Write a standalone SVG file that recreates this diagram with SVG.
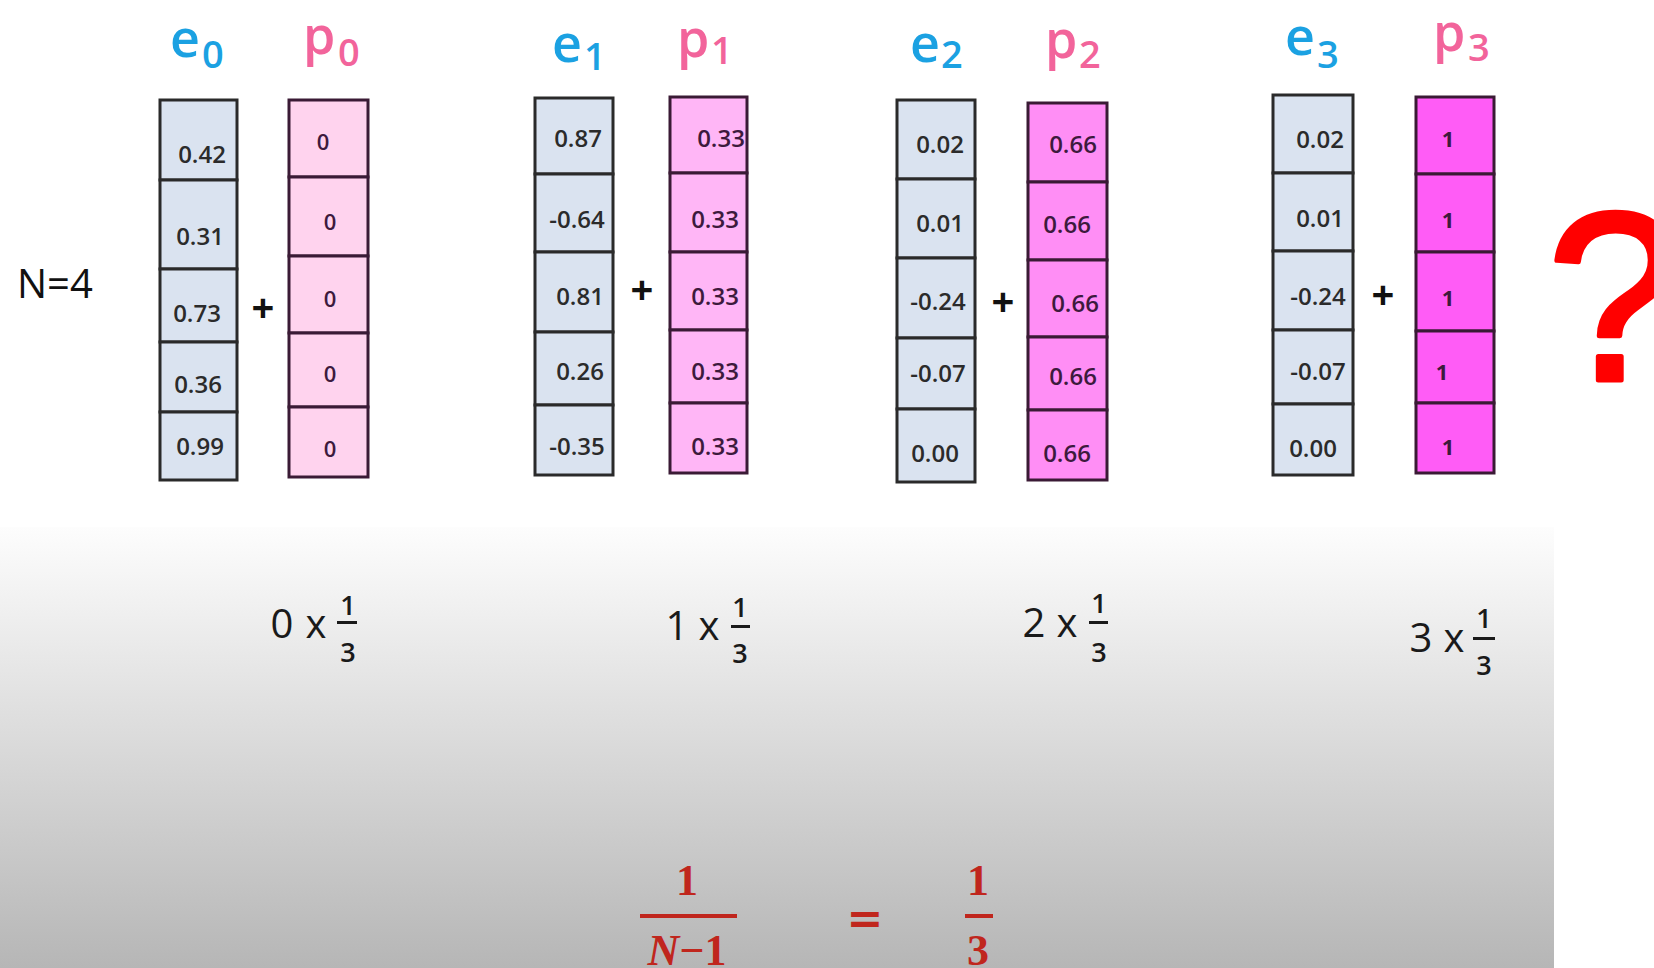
<svg xmlns="http://www.w3.org/2000/svg" width="1654" height="968" viewBox="0 0 1654 968">
<defs>
<linearGradient id="bg" x1="0" y1="527" x2="0" y2="968" gradientUnits="userSpaceOnUse">
<stop offset="0" stop-color="#fdfdfd"/>
<stop offset="1" stop-color="#b6b6b6"/>
</linearGradient>
</defs>
<style>
.cell{stroke-width:3}
.e rect{fill:#dae3f0;stroke:#2a2a2a}
.p rect{stroke:#3a1a35}
.p0 rect{fill:#ffd3ee}
.p1 rect{fill:#ffb6f6}
.p2 rect{fill:#ff8ef5}
.p3 rect{fill:#ff5cf6}
.v{font-family:"Open Sans","Liberation Sans",sans-serif;font-size:24px;font-weight:600;text-anchor:middle}
.e .v{fill:#2b2b2b}
.p .v{fill:#3d1a3d}
.p0 .v{font-size:22px}
.p3 .v{font-size:22px;font-weight:bold}
.hdr{font-family:"Open Sans","Liberation Sans",sans-serif;font-size:52px;font-weight:600}
.sub{font-size:38px}
.he{fill:#1ba1e2}
.hp{fill:#f2649b}
.plus{font-family:"Open Sans","Liberation Sans",sans-serif;font-size:40px;font-weight:bold;text-anchor:middle;fill:#111}
.big{font-family:"Open Sans","Liberation Sans",sans-serif;font-size:40px;text-anchor:middle;fill:#1a1a1a}
.fr{font-family:"Open Sans","Liberation Sans",sans-serif;font-size:27px;font-weight:600;text-anchor:middle;fill:#1a1a1a}
.bar{fill:#1a1a1a}
.red{font-family:"Liberation Serif","DejaVu Serif",serif;font-size:44px;font-weight:bold;text-anchor:middle;fill:#c0261d}
.rbar{fill:#c0261d}
</style>
<rect x="0" y="0" width="1654" height="968" fill="#ffffff"/>
<rect x="0" y="527" width="1554" height="441" fill="url(#bg)"/>

<g id="label-n">
<text x="17" y="298" font-family="Open Sans, Liberation Sans, sans-serif" font-size="40" fill="#111">N=4</text>
</g>

<g id="e0" class="e">
<text class="hdr he" x="170" y="57">e<tspan class="sub" x="202" y="68">0</tspan></text>
<rect class="cell" x="160" y="100" width="77" height="80"/>
<rect class="cell" x="160" y="180" width="77" height="89"/>
<rect class="cell" x="160" y="269" width="77" height="73"/>
<rect class="cell" x="160" y="342" width="77" height="70"/>
<rect class="cell" x="160" y="412" width="77" height="68"/>
<text class="v" x="202" y="163">0.42</text>
<text class="v" x="200" y="245">0.31</text>
<text class="v" x="197" y="322">0.73</text>
<text class="v" x="198" y="393">0.36</text>
<text class="v" x="200" y="455">0.99</text>
</g>
<g id="p0" class="p p0">
<text class="hdr hp" x="303" y="54">p<tspan class="sub" x="338" y="66">0</tspan></text>
<rect class="cell" x="289" y="100" width="79" height="77"/>
<rect class="cell" x="289" y="177" width="79" height="79"/>
<rect class="cell" x="289" y="256" width="79" height="77"/>
<rect class="cell" x="289" y="333" width="79" height="74"/>
<rect class="cell" x="289" y="407" width="79" height="70"/>
<text class="v" x="323" y="150">0</text>
<text class="v" x="330" y="230">0</text>
<text class="v" x="330" y="307">0</text>
<text class="v" x="330" y="382">0</text>
<text class="v" x="330" y="457">0</text>
</g>
<g id="plus0"><text class="plus" x="263" y="322">+</text></g>

<g id="e1" class="e">
<text class="hdr he" x="552" y="62">e<tspan class="sub" x="584" y="70">1</tspan></text>
<rect class="cell" x="535" y="98" width="78" height="76"/>
<rect class="cell" x="535" y="174" width="78" height="78"/>
<rect class="cell" x="535" y="252" width="78" height="80"/>
<rect class="cell" x="535" y="332" width="78" height="73"/>
<rect class="cell" x="535" y="405" width="78" height="70"/>
<text class="v" x="578" y="147">0.87</text>
<text class="v" x="577" y="228">-0.64</text>
<text class="v" x="580" y="305">0.81</text>
<text class="v" x="580" y="380">0.26</text>
<text class="v" x="577" y="455">-0.35</text>
</g>
<g id="p1" class="p p1">
<text class="hdr hp" x="677" y="57">p<tspan class="sub" x="711" y="64">1</tspan></text>
<rect class="cell" x="670" y="97" width="77" height="76"/>
<rect class="cell" x="670" y="173" width="77" height="79"/>
<rect class="cell" x="670" y="252" width="77" height="78"/>
<rect class="cell" x="670" y="330" width="77" height="73"/>
<rect class="cell" x="670" y="403" width="77" height="70"/>
<text class="v" x="721" y="147">0.33</text>
<text class="v" x="715" y="228">0.33</text>
<text class="v" x="715" y="305">0.33</text>
<text class="v" x="715" y="380">0.33</text>
<text class="v" x="715" y="455">0.33</text>
</g>
<g id="plus1"><text class="plus" x="642" y="304">+</text></g>

<g id="e2" class="e">
<text class="hdr he" x="910" y="62">e<tspan class="sub" x="941" y="68">2</tspan></text>
<rect class="cell" x="897" y="100" width="78" height="79"/>
<rect class="cell" x="897" y="179" width="78" height="79"/>
<rect class="cell" x="897" y="258" width="78" height="80"/>
<rect class="cell" x="897" y="338" width="78" height="71"/>
<rect class="cell" x="897" y="409" width="78" height="73"/>
<text class="v" x="940" y="153">0.02</text>
<text class="v" x="940" y="232">0.01</text>
<text class="v" x="938" y="310">-0.24</text>
<text class="v" x="938" y="382">-0.07</text>
<text class="v" x="935" y="462">0.00</text>
</g>
<g id="p2" class="p p2">
<text class="hdr hp" x="1045" y="58">p<tspan class="sub" x="1079" y="68">2</tspan></text>
<rect class="cell" x="1028" y="103" width="79" height="79"/>
<rect class="cell" x="1028" y="182" width="79" height="78"/>
<rect class="cell" x="1028" y="260" width="79" height="77"/>
<rect class="cell" x="1028" y="337" width="79" height="73"/>
<rect class="cell" x="1028" y="410" width="79" height="70"/>
<text class="v" x="1073" y="153">0.66</text>
<text class="v" x="1067" y="233">0.66</text>
<text class="v" x="1075" y="312">0.66</text>
<text class="v" x="1073" y="385">0.66</text>
<text class="v" x="1067" y="462">0.66</text>
</g>
<g id="plus2"><text class="plus" x="1003" y="316">+</text></g>

<g id="e3" class="e">
<text class="hdr he" x="1285" y="55">e<tspan class="sub" x="1317" y="68">3</tspan></text>
<rect class="cell" x="1273" y="95" width="80" height="78"/>
<rect class="cell" x="1273" y="173" width="80" height="78"/>
<rect class="cell" x="1273" y="251" width="80" height="79"/>
<rect class="cell" x="1273" y="330" width="80" height="74"/>
<rect class="cell" x="1273" y="404" width="80" height="71"/>
<text class="v" x="1320" y="148">0.02</text>
<text class="v" x="1320" y="227">0.01</text>
<text class="v" x="1318" y="305">-0.24</text>
<text class="v" x="1318" y="380">-0.07</text>
<text class="v" x="1313" y="457">0.00</text>
</g>
<g id="p3" class="p p3">
<text class="hdr hp" x="1433" y="51">p<tspan class="sub" x="1468" y="61">3</tspan></text>
<rect class="cell" x="1416" y="97" width="78" height="77"/>
<rect class="cell" x="1416" y="174" width="78" height="78"/>
<rect class="cell" x="1416" y="252" width="78" height="79"/>
<rect class="cell" x="1416" y="331" width="78" height="72"/>
<rect class="cell" x="1416" y="403" width="78" height="70"/>
<text class="v" x="1448" y="147">1</text>
<text class="v" x="1448" y="228">1</text>
<text class="v" x="1448" y="306">1</text>
<text class="v" x="1442" y="380">1</text>
<text class="v" x="1448" y="455">1</text>
</g>
<g id="plus3"><text class="plus" x="1383" y="309">+</text></g>

<g id="question">
<text x="1547" y="380" font-family="Liberation Sans, Arial, sans-serif" font-size="240" fill="#ff0000" stroke="#ff0000" stroke-width="5" stroke-linejoin="round">?</text>
</g>

<g id="formula0">
<text class="big" x="282" y="638">0</text>
<text class="big" x="316" y="638">x</text>
<text class="fr" x="348" y="615">1</text>
<rect class="bar" x="337" y="621" width="20" height="3"/>
<text class="fr" x="348" y="662">3</text>
</g>
<g id="formula1">
<text class="big" x="677" y="640">1</text>
<text class="big" x="709" y="640">x</text>
<text class="fr" x="740" y="617">1</text>
<rect class="bar" x="731" y="625" width="19" height="3"/>
<text class="fr" x="740" y="663">3</text>
</g>
<g id="formula2">
<text class="big" x="1034" y="637">2</text>
<text class="big" x="1067" y="637">x</text>
<text class="fr" x="1099" y="613">1</text>
<rect class="bar" x="1089" y="621" width="19" height="3"/>
<text class="fr" x="1099" y="662">3</text>
</g>
<g id="formula3">
<text class="big" x="1421" y="652">3</text>
<text class="big" x="1454" y="652">x</text>
<text class="fr" x="1484" y="628">1</text>
<rect class="bar" x="1473" y="637" width="22" height="3"/>
<text class="fr" x="1484" y="675">3</text>
</g>

<g id="formula-bottom">
<text class="red" x="687" y="895">1</text>
<rect class="rbar" x="640" y="914" width="97" height="4"/>
<text class="red" x="687" y="965" font-size="48"><tspan font-style="italic">N</tspan>−1</text>
<text x="865" y="933" font-family="DejaVu Sans, sans-serif" font-size="44" font-weight="bold" text-anchor="middle" fill="#c0261d">=</text>
<text class="red" x="978" y="895">1</text>
<rect class="rbar" x="965" y="914" width="28" height="4"/>
<text class="red" x="978" y="965">3</text>
</g>

<g id="connectors"/>
</svg>
